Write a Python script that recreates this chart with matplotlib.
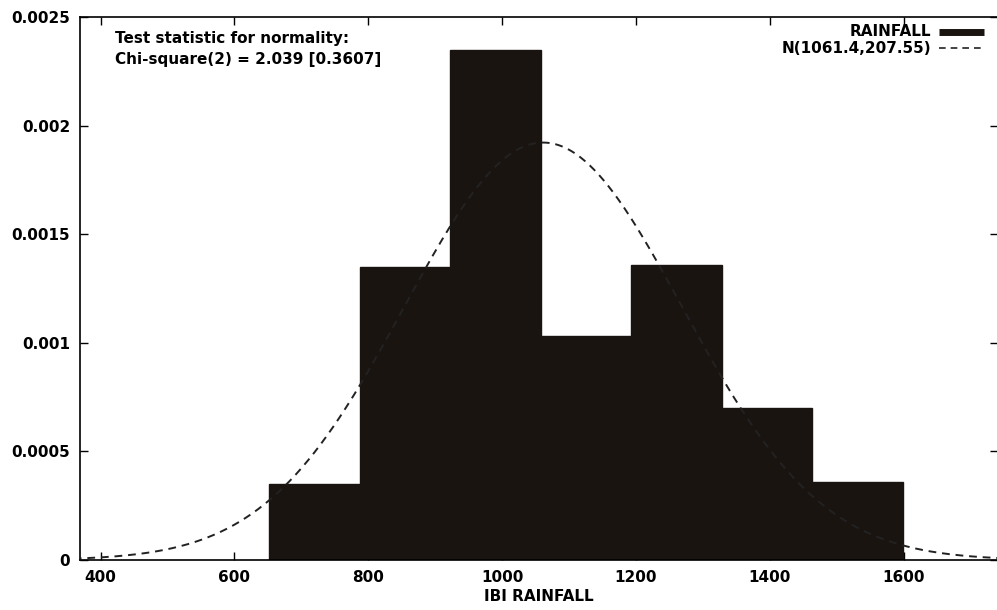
import numpy as np
import matplotlib
matplotlib.use("Agg")
import matplotlib.pyplot as plt

# Frequency distribution of IBI rainfall with fitted normal density (gretl style).

bin_left = [652.0, 787.3, 922.6, 1057.9, 1193.2, 1328.5, 1463.8]
bin_width = 135.3
density = [0.00035, 0.00135, 0.00235, 0.00103, 0.00136, 0.00070, 0.00036]

mu = 1061.4
sigma = 207.55

x_ticks = [400, 600, 800, 1000, 1200, 1400, 1600]
y_ticks = [0, 0.0005, 0.001, 0.0015, 0.002, 0.0025]
y_labels = ["0", "0.0005", "0.001", "0.0015", "0.002", "0.0025"]

bar_color = "#1a1411"
line_color = "#222222"

plt.rcParams["font.family"] = "DejaVu Sans"
plt.rcParams["font.weight"] = "bold"

fig = plt.figure(figsize=(9.97, 6.10), dpi=100)
ax = fig.add_axes([0.080, 0.082, 0.921, 0.890])

ax.bar(bin_left, density, width=bin_width, align="edge", color=bar_color,
       edgecolor=bar_color, linewidth=1.0, zorder=2)

xs = np.linspace(360, 1760, 600)
pdf = np.exp(-0.5 * ((xs - mu) / sigma) ** 2) / (sigma * np.sqrt(2 * np.pi))
ax.plot(xs, pdf, color=line_color, linestyle=(0, (4, 3)), linewidth=1.4, zorder=3)

ax.set_xlim(369, 1741)
ax.set_ylim(0, 0.0025)
ax.set_xticks(x_ticks)
ax.set_yticks(y_ticks)
ax.set_yticklabels(y_labels)
ax.tick_params(direction="in", length=6, width=1, top=True, right=True,
               labelsize=11, pad=7)
for s in ax.spines.values():
    s.set_linewidth(1.2)
ax.set_xlabel("IBI RAINFALL", fontsize=11, fontweight="bold", labelpad=3)

ax.text(0.038, 0.975, "Test statistic for normality:", transform=ax.transAxes,
        fontsize=11, fontweight="bold", va="top", ha="left")
ax.text(0.038, 0.935, "Chi-square(2) = 2.039 [0.3607]", transform=ax.transAxes,
        fontsize=11, fontweight="bold", va="top", ha="left")

# legend drawn gretl-style: right-aligned text, sample on the right
ax.text(0.927, 0.973, "RAINFALL", transform=ax.transAxes, fontsize=11,
        fontweight="bold", va="center", ha="right")
ax.plot([0.936, 0.985], [0.973, 0.973], transform=ax.transAxes,
        color=bar_color, linewidth=5, solid_capstyle="butt", clip_on=False)
ax.text(0.927, 0.943, "N(1061.4,207.55)", transform=ax.transAxes, fontsize=11,
        fontweight="bold", va="center", ha="right")
ax.plot([0.936, 0.985], [0.943, 0.943], transform=ax.transAxes,
        color=line_color, linestyle=(0, (4, 3)), linewidth=1.2, clip_on=False)

fig.savefig("out.png", dpi=100)
